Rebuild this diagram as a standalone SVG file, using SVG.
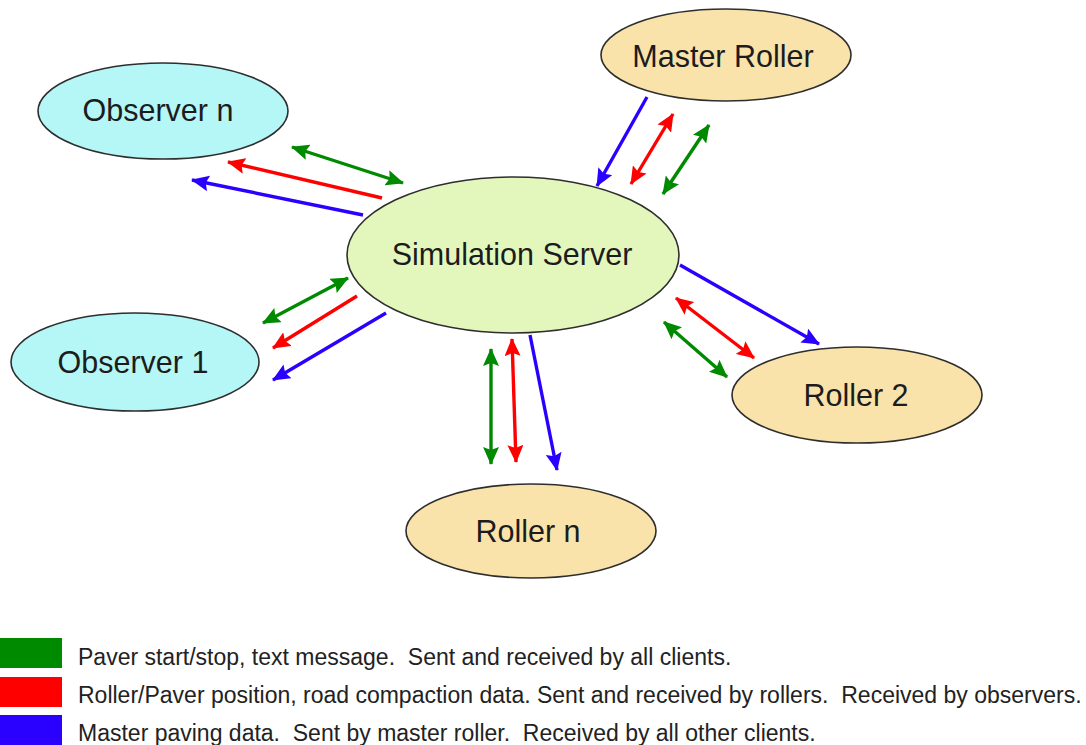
<svg xmlns="http://www.w3.org/2000/svg" width="1086" height="745" viewBox="0 0 1086 745">
  <style>
    .node { stroke: #2e2e2e; stroke-width: 1.6; }
    .observer { fill: #b5f6f6; }
    .server { fill: #e3f7bd; }
    .roller { fill: #f9e3aa; }
    .label { font-family: "Liberation Sans", Arial, sans-serif; font-size: 30.5px; fill: #1c1c1c; text-anchor: middle; }
    .legend { font-family: "Liberation Sans", Arial, sans-serif; font-size: 23px; fill: #222; white-space: pre; }
    .g { stroke: #008a00; stroke-width: 3.4; fill: none; }
    .r { stroke: #ff0000; stroke-width: 3.4; fill: none; }
    .b { stroke: #2a00ff; stroke-width: 3.4; fill: none; }
  </style>
  <defs>
    <marker id="headG" viewBox="0 0 18 16" refX="17" refY="8" markerWidth="18" markerHeight="16" markerUnits="userSpaceOnUse" orient="auto-start-reverse">
      <path d="M0,0 L18,8 L0,16 L3,8 Z" fill="#008a00"/>
    </marker>
    <marker id="headR" viewBox="0 0 18 16" refX="17" refY="8" markerWidth="18" markerHeight="16" markerUnits="userSpaceOnUse" orient="auto-start-reverse">
      <path d="M0,0 L18,8 L0,16 L3,8 Z" fill="#ff0000"/>
    </marker>
    <marker id="headB" viewBox="0 0 18 16" refX="17" refY="8" markerWidth="18" markerHeight="16" markerUnits="userSpaceOnUse" orient="auto-start-reverse">
      <path d="M0,0 L18,8 L0,16 L3,8 Z" fill="#2a00ff"/>
    </marker>
  </defs>

  <rect width="1086" height="745" fill="#ffffff"/>

  <!-- message flows between the server and its clients -->
  <g id="connectors">
    <!-- Observer n -->
    <line class="g" x1="292" y1="147" x2="403" y2="183" marker-start="url(#headG)" marker-end="url(#headG)"/>
    <line class="r" x1="382" y1="198" x2="228" y2="162" marker-end="url(#headR)"/>
    <line class="b" x1="363" y1="215" x2="192" y2="180" marker-end="url(#headB)"/>
    <!-- Master Roller -->
    <line class="b" x1="647" y1="97" x2="597" y2="186" marker-end="url(#headB)"/>
    <line class="r" x1="673" y1="114" x2="631" y2="184" marker-start="url(#headR)" marker-end="url(#headR)"/>
    <line class="g" x1="709" y1="125" x2="663" y2="194" marker-start="url(#headG)" marker-end="url(#headG)"/>
    <!-- Observer 1 -->
    <line class="g" x1="348" y1="278" x2="263" y2="323" marker-start="url(#headG)" marker-end="url(#headG)"/>
    <line class="r" x1="357" y1="296" x2="273" y2="348" marker-end="url(#headR)"/>
    <line class="b" x1="386" y1="313" x2="273" y2="380" marker-end="url(#headB)"/>
    <!-- Roller n -->
    <line class="g" x1="491" y1="349" x2="491" y2="464" marker-start="url(#headG)" marker-end="url(#headG)"/>
    <line class="r" x1="512" y1="339" x2="516" y2="462" marker-start="url(#headR)" marker-end="url(#headR)"/>
    <line class="b" x1="530" y1="335" x2="557" y2="470" marker-end="url(#headB)"/>
    <!-- Roller 2 -->
    <line class="b" x1="680" y1="265" x2="819" y2="344" marker-end="url(#headB)"/>
    <line class="r" x1="676" y1="298" x2="754" y2="358" marker-start="url(#headR)" marker-end="url(#headR)"/>
    <line class="g" x1="664" y1="322" x2="727" y2="377" marker-start="url(#headG)" marker-end="url(#headG)"/>
  </g>

  <g id="observer-n">
    <ellipse class="node observer" cx="163" cy="111" rx="125" ry="48"/>
    <text class="label" x="158" y="121">Observer n</text>
  </g>
  <g id="master-roller">
    <ellipse class="node roller" cx="726" cy="55" rx="125" ry="46"/>
    <text class="label" x="723" y="67">Master Roller</text>
  </g>
  <g id="simulation-server">
    <ellipse class="node server" cx="513" cy="255" rx="166" ry="78"/>
    <text class="label" x="512" y="265">Simulation Server</text>
  </g>
  <g id="observer-1">
    <ellipse class="node observer" cx="135" cy="362" rx="124" ry="49"/>
    <text class="label" x="133" y="373">Observer 1</text>
  </g>
  <g id="roller-2">
    <ellipse class="node roller" cx="857" cy="395" rx="125" ry="48"/>
    <text class="label" x="856" y="406">Roller 2</text>
  </g>
  <g id="roller-n">
    <ellipse class="node roller" cx="531" cy="531" rx="125" ry="47"/>
    <text class="label" x="528" y="542">Roller n</text>
  </g>

  <!-- colour key -->
  <g id="legend">
    <rect x="0" y="638" width="62" height="30" fill="#008a00"/>
    <rect x="0" y="677" width="62" height="30" fill="#ff0000"/>
    <rect x="0" y="715" width="62" height="30" fill="#2a00ff"/>
    <text class="legend" x="78" y="665">Paver start/stop, text message.  Sent and received by all clients.</text>
    <text class="legend" x="78" y="703">Roller/Paver position, road compaction data. Sent and received by rollers.  Received by observers.</text>
    <text class="legend" x="78" y="741">Master paving data.  Sent by master roller.  Received by all other clients.</text>
  </g>
</svg>
